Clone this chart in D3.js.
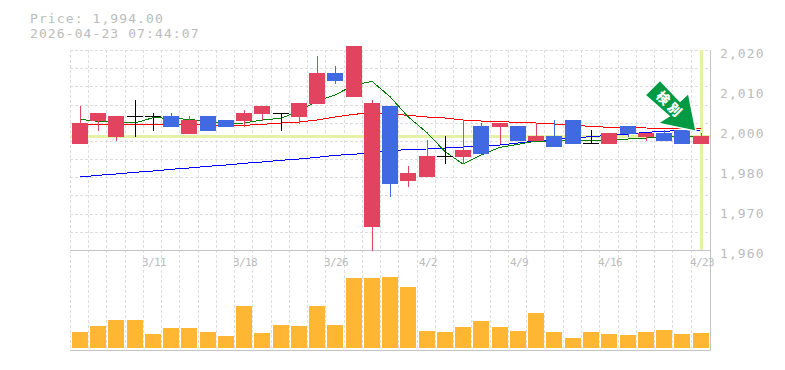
<!DOCTYPE html>
<html>
<head>
<meta charset="utf-8">
<script src="https://cdn.jsdelivr.net/npm/d3@7"></script>
<style>
  html, body { margin: 0; padding: 0; background: #fff; }
  svg { display: block; }
  text { font-family: "DejaVu Sans Mono", "Liberation Mono", monospace; fill: #bbb; }
</style>
</head>
<body>
<svg id="chart" width="785" height="370"></svg>
<script>
const dates = ['3/5','3/6','3/9','3/10','3/11','3/12','3/13','3/16','3/17','3/18','3/19','3/23','3/24','3/25','3/26','3/27','3/30','3/31','4/1','4/2','4/3','4/6','4/7','4/8','4/9','4/10','4/13','4/14','4/15','4/16','4/17','4/20','4/21','4/22','4/23'];
const dateLabels = ['3/11','3/18','3/26','4/2','4/9','4/16','4/23'];

const open = [1992,1999,1994,2000,2000,2000,1995,2000,1999,1999,2001,2001,2000,2004,2013,2006,1967,2003,1981,1982,1988,1988,1997,1997,1997,1993,1994,1999,1992,1992,1997,1994,1995,1996,1992];
const high = [2003,2001,2000,2005,2001,2001,2000,2000,1999,2002,2003,2001,2004,2018,2015,2021,2005,2003,1985,1993,1994,1999,1998,1998,1997,1998,1999,1999,1996,1995,1997,1995,1996,1996,1995];
const low = [1992,1996,1993,1994,1996,1997,1995,1996,1997,1997,1999,1996,1998,2004,2010,2006,1960,1976,1979,1982,1986,1986,1989,1992,1993,1993,1991,1992,1992,1992,1994,1993,1993,1992,1992];
const close = [1998,2001,2000,2000,2000,1997,1999,1996,1997,2001,2003,2001,2004,2013,2011,2021,2004,1980,1983,1988,1988,1990,1989,1998,1993,1994,1991,1992,1992,1995,1995,1995,1993,1992,1994];

const maShort = [1999.2,1998.6,1998.4,1998.1,1999.7,1999.5,1999.2,1998.6,1998,1998.1,1999,1999.5,2001.7,2004.7,2006.5,2009.5,2010.6,2006,2000,1995.2,1989.5,1985.8,1988.5,1990.8,1991.7,1992.7,1992.7,1993,1992.7,1993,1993.3,1993.6,1993.9,1994.2,1994.2];
const maMiddle = [1997.7,1997.7,1997.7,1997.7,1997.7,1997.7,1997.7,1997.4,1997.2,1997.4,1997.7,1998.1,1998.4,1999,1999.9,2000.7,2001.2,2000.8,2000.4,1999.9,1999.6,1999,1998.7,1998.5,1998.3,1998.1,1997.8,1997.4,1997.1,1996.8,1996.7,1996.6,1996.5,1996.4,1996.3];
const maLong = [1981.9,1982.4,1982.8,1983.3,1983.7,1984.2,1984.6,1985.1,1985.5,1986,1986.4,1986.9,1987.3,1987.8,1988.4,1988.7,1989.3,1989.7,1990.2,1990.3,1990.6,1990.9,1991.2,1991.5,1992.1,1992.7,1993.2,1993.6,1994,1994.4,1994.8,1995.3,1995.6,1995.9,1996];

const volume = [1600,2200,2800,2800,1400,2000,2000,1600,1200,4200,1500,2300,2200,4200,2300,7000,7000,7100,6100,1700,1600,2100,2700,2100,1700,3500,1600,1000,1600,1400,1300,1600,1800,1400,1500];

const priceTicks = [2020,2008,1996,1984,1972,1960];
const priceLabels = ['2,020','2,010','2,000','1,980','1,970','1,960'];
const lastPrice = 1994;
const title = ['Price: 1,994.00', '2026-04-23 07:44:07'];
const arrowLabel = ['検', '別'];

const svg = d3.select('#chart');
const plot = { left: 70, right: 710, top: 50, mid: 250, bottom: 350 };

const x = d3.scaleBand().domain(dates).range([plot.left + 0.7, plot.right - 0.3]).paddingInner(0.12).paddingOuter(0.06);
const yPrice = d3.scaleLinear().domain([1960, 2020]).range([plot.mid, plot.top]);
const yVol = d3.scaleLinear().domain([0, 10000]).range([plot.bottom - 2, plot.mid - 2]);

const px = d => Math.round(x(d));
const cx = d => px(d) + 8;
const crisp = 'crispEdges';

// grid
const grid = svg.append('g').attr('stroke', '#ddd').attr('stroke-dasharray', '3 2').attr('shape-rendering', crisp);
grid.selectAll('.v').data(dates).join('line')
    .attr('x1', d => px(d) - 1.5).attr('x2', d => px(d) - 1.5)
    .attr('y1', plot.top).attr('y2', plot.bottom);
grid.selectAll('.h').data(d3.range(0, 12)).join('line')
    .attr('x1', plot.left).attr('x2', plot.right)
    .attr('y1', i => Math.round(plot.top + i * 200 / 11) + 0.5)
    .attr('y2', i => Math.round(plot.top + i * 200 / 11) + 0.5);

// last price guide lines
svg.append('line')
    .attr('x1', plot.left).attr('x2', plot.right)
    .attr('y1', yPrice(lastPrice)).attr('y2', yPrice(lastPrice))
    .attr('stroke', '#e4f2a8').attr('stroke-width', 3.5).attr('shape-rendering', crisp);
svg.append('line')
    .attr('x1', cx(dates[34])).attr('x2', cx(dates[34]))
    .attr('y1', plot.top).attr('y2', plot.mid)
    .attr('stroke', '#e4f2a8').attr('stroke-width', 3).attr('shape-rendering', crisp);

// frame
const frame = svg.append('g').attr('stroke', '#c4c4c4').attr('shape-rendering', crisp);
frame.append('line').attr('x1', plot.left).attr('x2', plot.right).attr('y1', plot.mid + 0.5).attr('y2', plot.mid + 0.5);
frame.append('line').attr('x1', plot.left).attr('x2', plot.right + 1).attr('y1', plot.bottom + 0.5).attr('y2', plot.bottom + 0.5);
frame.append('line').attr('x1', plot.right + 0.5).attr('x2', plot.right + 0.5).attr('y1', plot.top).attr('y2', plot.bottom);

// moving averages
const maLine = d3.line().x((d, i) => cx(dates[i])).y(d => yPrice(d));
[[maLong, '#0000ff'], [maMiddle, '#ff0000'], [maShort, '#008000']].forEach(([values, color]) => {
    svg.append('path').attr('d', maLine(values))
        .attr('fill', 'none').attr('stroke', color).attr('stroke-width', 1)
        .attr('shape-rendering', crisp);
});

// candles
const candleColor = i => close[i] > open[i] ? '#e2445f' : close[i] < open[i] ? '#4169e1' : '#000';
const candles = svg.append('g').attr('shape-rendering', crisp);
dates.forEach((d, i) => {
    const top = Math.floor(yPrice(Math.max(open[i], close[i])));
    const bottom = Math.floor(yPrice(Math.min(open[i], close[i]))) + 1;
    candles.append('line')
        .attr('x1', cx(d) + 0.5).attr('x2', cx(d) + 0.5)
        .attr('y1', Math.floor(yPrice(high[i]))).attr('y2', Math.floor(yPrice(low[i])) + 1)
        .attr('stroke', candleColor(i));
    candles.append('rect')
        .attr('x', px(d)).attr('y', top)
        .attr('width', 16).attr('height', open[i] === close[i] ? 1 : bottom - top)
        .attr('fill', candleColor(i));
});

// volume
svg.append('g').attr('shape-rendering', crisp).selectAll('rect').data(volume).join('rect')
    .attr('x', (d, i) => px(dates[i]))
    .attr('y', d => Math.round(yVol(d)))
    .attr('width', 16)
    .attr('height', d => Math.round(yVol(0)) - Math.round(yVol(d)))
    .attr('fill', '#ffb733');

// price labels
svg.append('g').selectAll('text').data(priceTicks).join('text')
    .attr('x', 720).attr('y', d => yPrice(d) + 8)
    .attr('font-size', 13).attr('letter-spacing', 1.1)
    .text((d, i) => priceLabels[i]);

// date labels
svg.append('g').selectAll('text').data(dateLabels).join('text')
    .attr('x', d => cx(d) + 1).attr('y', 266)
    .attr('text-anchor', 'middle')
    .attr('font-size', 11).attr('letter-spacing', -0.6)
    .text(d => d);

// title
svg.append('g').selectAll('text').data(title).join('text')
    .attr('x', 30).attr('y', (d, i) => 23 + i * 15)
    .attr('font-size', 13).attr('letter-spacing', 1.1)
    .text(d => d);

// signal arrow, tip on the last close
const tip = [cx(dates[34]) - 5, yPrice(lastPrice) - 5.5];
const arrow = svg.append('g').attr('transform', `translate(${tip[0]},${tip[1]})`);
arrow.append('polygon')
    .attr('points', '-36,-51 -51,-36 -27,-15 -38,-8 0,0 -7.5,-38 -16,-30')
    .attr('fill', '#009944').attr('stroke', '#fff').attr('stroke-width', 1.5);
arrow.selectAll('text').data(arrowLabel).join('text')
    .attr('transform', (d, i) => `translate(${-33 + i * 11.5},${-33 + i * 11.5}) rotate(45)`)
    .attr('text-anchor', 'middle').attr('dy', 4.5)
    .attr('font-size', 13).attr('font-weight', 900)
    .style('font-family', '"Noto Sans CJK JP"').style('fill', '#fff')
    .text(d => d);
</script>
</body>
</html>
